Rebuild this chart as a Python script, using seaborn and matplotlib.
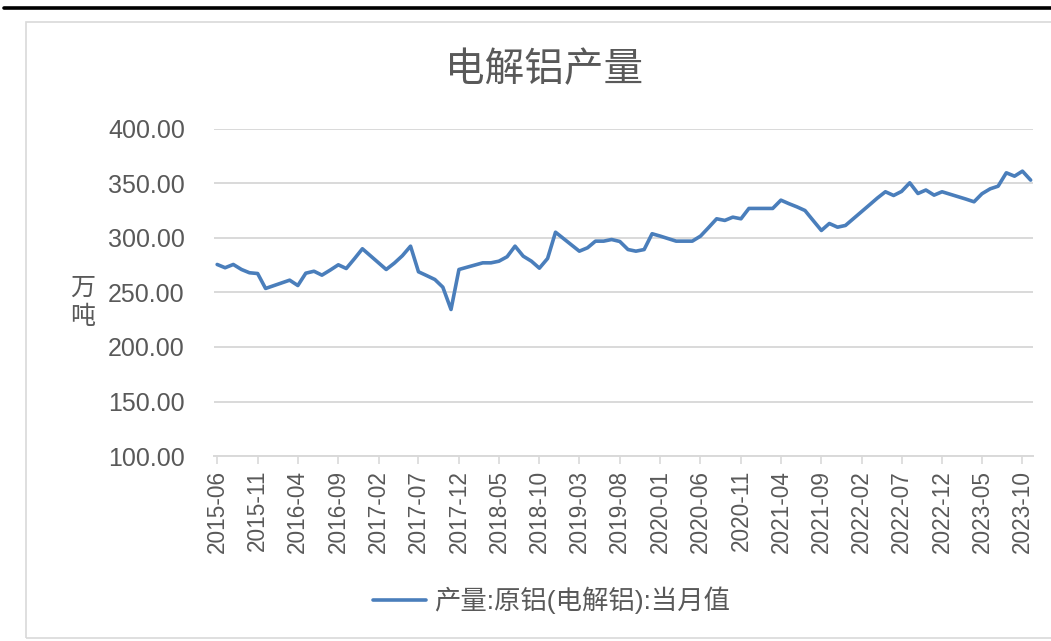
import pandas as pd
import matplotlib.pyplot as plt
from matplotlib.patches import Rectangle
from matplotlib.lines import Line2D
import seaborn as sns

# months with data (Jan/Feb are often missing in the source)
months = ['2015-06', '2015-07', '2015-08', '2015-09', '2015-10', '2015-11', '2015-12',
          '2016-03', '2016-04', '2016-05', '2016-06', '2016-07', '2016-08', '2016-09',
          '2016-10', '2016-11', '2016-12',
          '2017-03', '2017-04', '2017-05', '2017-06', '2017-07', '2017-08', '2017-09',
          '2017-10', '2017-11', '2017-12',
          '2018-03', '2018-04', '2018-05', '2018-06', '2018-07', '2018-08', '2018-09',
          '2018-10', '2018-11', '2018-12',
          '2019-03', '2019-04', '2019-05', '2019-06', '2019-07', '2019-08', '2019-09',
          '2019-10', '2019-11', '2019-12',
          '2020-01', '2020-03', '2020-04', '2020-05', '2020-06', '2020-07', '2020-08',
          '2020-09', '2020-10', '2020-11', '2020-12',
          '2021-03', '2021-04', '2021-05', '2021-06', '2021-07', '2021-08', '2021-09',
          '2021-10', '2021-11', '2021-12',
          '2022-03', '2022-04', '2022-05', '2022-06', '2022-07', '2022-08', '2022-09',
          '2022-10', '2022-11', '2022-12',
          '2023-03', '2023-04', '2023-05', '2023-06', '2023-07', '2023-08', '2023-09',
          '2023-10', '2023-11']
output = [275.7, 272.7, 275.7, 271.1, 268.1, 267.4, 253.7,
          261.3, 256.4, 267.7, 269.5, 265.9, 270.5, 275.4,
          272.0, 281.0, 290.1,
          271.1, 277.0, 283.7, 292.5, 269.0, 265.5, 261.9,
          254.9, 234.4, 271.1,
          277.2, 277.2, 278.7, 282.8, 292.5, 283.3, 278.7,
          272.3, 281.2, 305.3,
          287.9, 291.0, 297.1, 297.1, 298.6, 296.8, 289.4,
          287.9, 289.4, 303.9,
          301.7, 297.1, 297.1, 297.1, 301.7, 309.4, 317.6,
          316.1, 319.1, 317.6, 327.1,
          327.1, 334.7, 331.5, 328.5, 325.2, 316.0, 306.9,
          313.3, 309.9, 311.5,
          330.2, 336.7, 342.4, 339.0, 342.7, 350.6, 340.8,
          344.0, 339.3, 342.4,
          335.7, 333.2, 340.6, 345.1, 347.5, 359.8, 356.7,
          361.3, 353.1]
yticks = [100, 150, 200, 250, 300, 350, 400]
series_name = '产量:原铝(电解铝):当月值'

df = pd.DataFrame({'date': pd.to_datetime(months), 'value': output})

sns.set_theme(style='white')
plt.rcParams['font.family'] = ['Liberation Sans', 'Noto Sans CJK SC']
grey = '#595959'
blue = '#4a7ebb'

fig = plt.figure(figsize=(10.51, 6.41), dpi=100)
ax = fig.add_axes([0.2036, 0.2886, 0.7793, 0.5102])

# outer chart frame and the black rule at the top
fig.patches.append(Rectangle((0.0247, 0.004), 1.0, 0.9617, transform=fig.transFigure,
                             facecolor='none', edgecolor='#d9d9d9', linewidth=1.2))
fig.lines.append(Line2D([0.004, 1.0], [0.9875, 0.9875], transform=fig.transFigure,
                        color='black', linewidth=2.6))

sns.lineplot(data=df, x='date', y='value', ax=ax, color=blue, linewidth=2.6, legend=False)

ax.set_ylim(100, 400)
ax.set_yticks(yticks)
ax.set_yticklabels([f'{v:.2f}' for v in yticks], fontsize=18, color=grey)
ax.set_xlim(pd.Timestamp('2015-05-20'), pd.Timestamp('2023-11-10'))
xt = pd.date_range('2015-06-01', '2023-10-01', freq='5MS')
ax.set_xticks(xt)
ax.set_xticklabels([d.strftime('%Y-%m') for d in xt], rotation=90, fontsize=16.3, color=grey)
ax.tick_params(axis='x', length=6, width=1.2, color='#d9d9d9', pad=4, bottom=True)
ax.tick_params(axis='y', length=0, pad=21)

ax.grid(axis='y', color='#d9d9d9', linewidth=1.4)
ax.set_axisbelow(True)
sns.despine(ax=ax, left=True, top=True, right=True)
ax.spines['bottom'].set_color('#d9d9d9')
ax.spines['bottom'].set_linewidth(1.4)

ax.set_xlabel('')
ax.set_ylabel('万\n吨', rotation=0, fontsize=18, color=grey, va='center', linespacing=1.25)
ax.yaxis.set_label_coords(-0.16, 0.47)

fig.text(0.518, 0.891, '电解铝产量', ha='center', va='center', fontsize=28.5, color=grey)

handle = Line2D([], [], color=blue, linewidth=2.6)
fig.legend([handle], [series_name], loc='center', bbox_to_anchor=(0.525, 0.064),
           frameon=False, fontsize=19, handlelength=2.0, handletextpad=0.3,
           labelcolor=grey)

fig.savefig('out.png', dpi=100)
